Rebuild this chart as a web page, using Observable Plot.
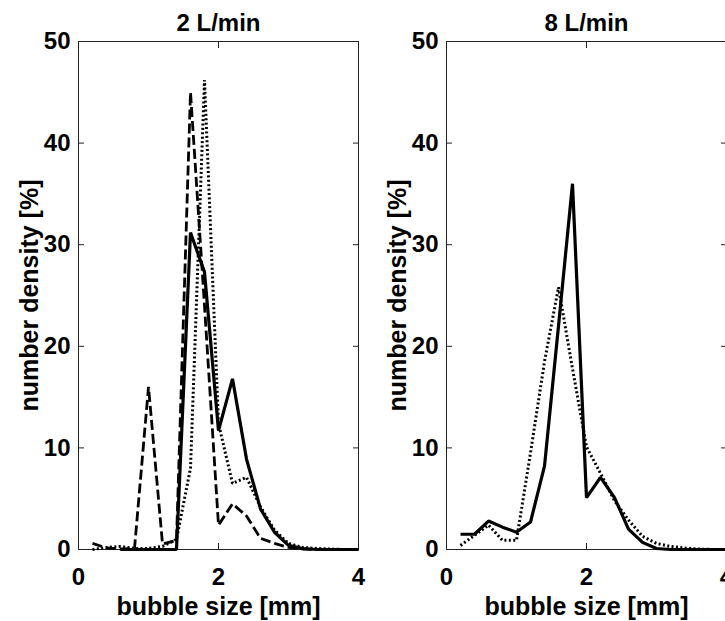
<!DOCTYPE html>
<html>
<head>
<meta charset="utf-8">
<script src="https://cdn.jsdelivr.net/npm/d3@7"></script>
<script src="https://cdn.jsdelivr.net/npm/@observablehq/plot@0.6"></script>
<style>
  html, body { margin: 0; padding: 0; background: #fff; }
  #wrap { position: relative; width: 725px; height: 621px; overflow: hidden; background: #fff; }
  #wrap svg { position: absolute; top: 0; overflow: visible; }
</style>
</head>
<body>
<div id="wrap"></div>
<script>
// bubble size bins [mm]
const sizes = [0.2, 0.4, 0.6, 0.8, 1.0, 1.2, 1.4, 1.6, 1.8, 2.0, 2.2, 2.4, 2.6, 2.8, 3.0, 3.2, 3.4, 3.6, 3.8, 4.0];

// 2 L/min panel
const left_solid  = [null, null, 0, 0, 0, 0, 0, 31.2, 27.3, 11.7, 16.8, 8.9, 4.0, 1.7, 0.4, 0.1, 0, 0, 0, 0];
const left_dotted = [0, 0.2, 0.3, 0.1, 0.1, 0.3, 1.0, 8, 46.2, 12.4, 6.5, 7.1, 4.2, 1.9, 0.6, 0.2, 0.1, 0.05, 0, 0];
const left_dashed = [0.6, 0.15, 0.05, 0.1, 16, 0.55, 0.9, 45, 24, 2.4, 4.5, 3.3, 1.1, 0.6, 0.2, 0.05, 0, 0, 0, 0];

// 8 L/min panel
const right_solid  = [1.5, 1.5, 2.8, 2.2, 1.7, 2.7, 8.2, 22, 36, 5.1, 7.1, 5.1, 2.0, 0.7, 0.1, 0, 0, 0, 0, 0];
const right_dotted = [0.4, 1.4, 2.4, 0.9, 0.9, 9.5, 18.5, 25.8, 17.8, 10.1, 7.5, 4.8, 2.9, 1.3, 0.6, 0.3, 0.15, 0.05, 0, 0];

const xTicks = [0, 2, 4];
const yTicks = [0, 10, 20, 30, 40, 50];
const titles = ["2 L/min", "8 L/min"];
const xLabel = "bubble size [mm]";
const yLabel = "number density [%]";

const FONT = "Liberation Sans, Arial, sans-serif";

function toRows(ys) {
  return sizes.map((x, i) => ({x, y: ys[i]}));
}

function panel(title, series) {
  const lines = series.map(s =>
    Plot.line(toRows(s.values), {
      x: "x", y: "y", stroke: "#000", strokeWidth: s.width,
      strokeDasharray: s.dash, strokeLinejoin: "miter", strokeLinecap: "butt"
    })
  );
  return Plot.plot({
    width: 362, height: 621,
    marginLeft: 78, marginRight: 4, marginTop: 41, marginBottom: 72,
    x: {domain: [0, 4]},
    y: {domain: [0, 50]},
    style: {fontFamily: FONT, fontWeight: "bold", fontSize: "24px", background: "transparent", color: "#000"},
    marks: [
      Plot.frame({stroke: "#222", strokeWidth: 1}),
      Plot.axisX({anchor: "bottom", ticks: xTicks, tickSize: -6, tickPadding: 24, tickFormat: d => String(d),
                  fontSize: 24, fontWeight: "bold", label: null, stroke: "#222"}),
      Plot.axisX({anchor: "top", ticks: xTicks, tickSize: -6, tickFormat: () => "", label: null, stroke: "#222"}),
      Plot.axisY({anchor: "left", ticks: yTicks, tickSize: -6, tickPadding: 14, tickFormat: d => String(d),
                  fontSize: 24, fontWeight: "bold", label: null, stroke: "#222"}),
      Plot.axisY({anchor: "right", ticks: yTicks, tickSize: -6, tickFormat: () => "", label: null, stroke: "#222"}),
      ...lines,
      Plot.text([title], {frameAnchor: "top", dy: -18, textAnchor: "middle", lineAnchor: "middle", fontSize: 24, fontWeight: "bold", fill: "#000"}),
      Plot.text([xLabel], {frameAnchor: "bottom", dy: 57, textAnchor: "middle", lineAnchor: "middle", fontSize: 25, fontWeight: "bold", fill: "#000"}),
      Plot.text([yLabel], {frameAnchor: "left", dx: -49, rotate: -90, textAnchor: "middle", lineAnchor: "middle", fontSize: 25, fontWeight: "bold", fill: "#000"})
    ]
  });
}

const wrap = document.getElementById("wrap");

const p1 = panel(titles[0], [
  {values: left_dotted, width: 3, dash: "2,2.4"},
  {values: left_dashed, width: 2.8, dash: "10,4"},
  {values: left_solid,  width: 3.2, dash: null}
]);
p1.style.left = "0px";
wrap.appendChild(p1);

const p2 = panel(titles[1], [
  {values: right_dotted, width: 3, dash: "2,2.4"},
  {values: right_solid,  width: 3.2, dash: null}
]);
p2.style.left = "368px";
wrap.appendChild(p2);
</script>
</body>
</html>
